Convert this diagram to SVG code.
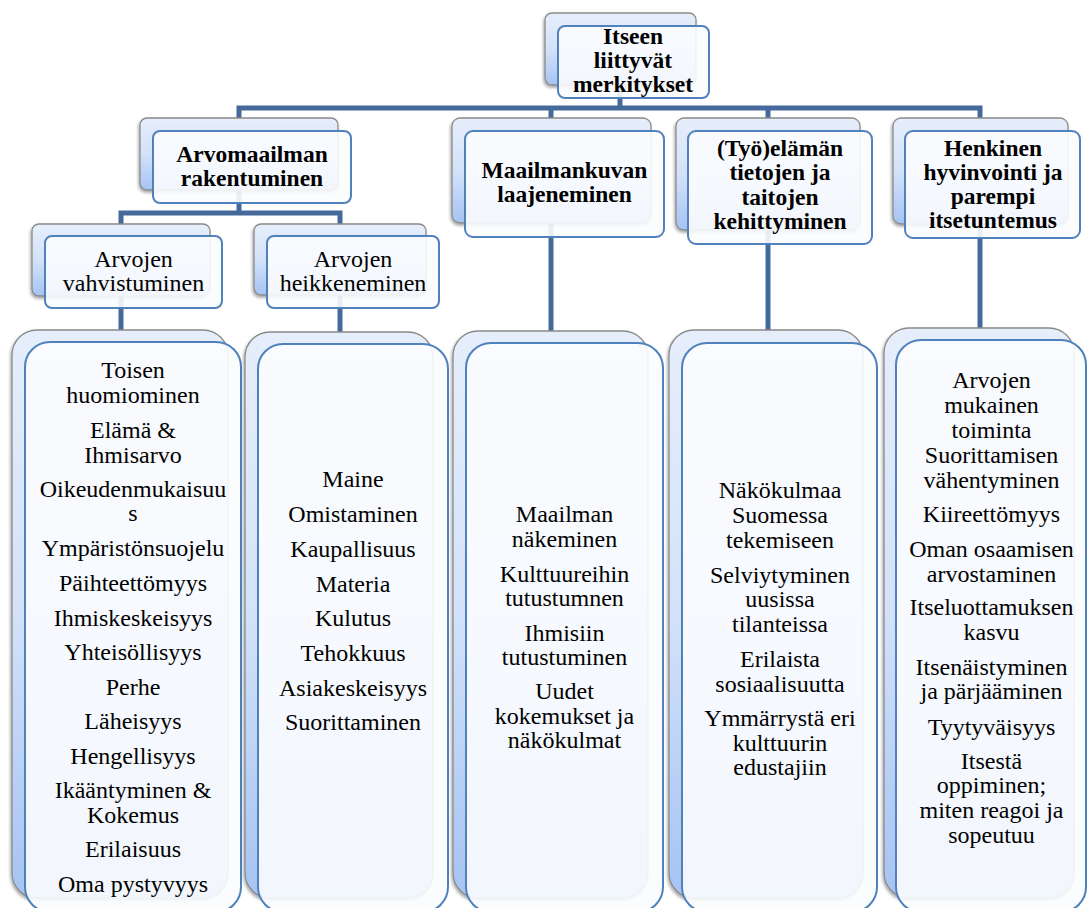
<svg xmlns="http://www.w3.org/2000/svg" width="1087" height="908" viewBox="0 0 1087 908">
<defs>
<linearGradient id="backGrad" x1="0" y1="0" x2="0" y2="1">
<stop offset="0" stop-color="#e6eefb"/>
<stop offset="0.5" stop-color="#d3e2fa"/>
<stop offset="1" stop-color="#a6c3f2"/>
</linearGradient>
<filter id="shadow" x="-10%" y="-10%" width="120%" height="120%">
<feDropShadow dx="-1" dy="2" stdDeviation="1.5" flood-color="#000" flood-opacity="0.35"/>
</filter>
<style>
.back{fill:url(#backGrad);stroke:#8a8a8a;stroke-width:1.3;filter:url(#shadow)}
.front{fill:#fbfcfe;fill-opacity:0.9;stroke:#4f81bd;stroke-width:2}
.conn path{fill:none;stroke:#46699b;stroke-width:5;stroke-linejoin:miter}
.hb{font-family:'Liberation Serif','Times New Roman','DejaVu Serif',serif;font-weight:bold;font-size:23.5px;fill:#000;text-anchor:middle}
.t{font-family:'Liberation Serif','Times New Roman','DejaVu Serif',serif;font-size:24px;fill:#000;text-anchor:middle}
</style>
</defs>
<rect width="1087" height="908" fill="#fff"/>

<g id="connectors" class="conn">
<path d="M620,80 V108"/>
<path d="M239,125 V108 H980 V125"/>
<path d="M551,108 V125"/>
<path d="M768,108 V125"/>
<path d="M239,190 V213"/>
<path d="M121,230 V213 H340 V230"/>
<path d="M121,295 V336"/>
<path d="M340,295 V338"/>
<path d="M551,222 V337"/>
<path d="M768,230 V336"/>
<path d="M980,224 V334"/>
</g>

<g id="node-root">
<rect class="back" x="545" y="13" width="151" height="72" rx="7"/>
<rect class="front" x="558" y="26" width="151" height="72" rx="7"/>
<text class="hb" x="633" y="44">Itseen</text>
<text class="hb" x="633" y="68">liittyvät</text>
<text class="hb" x="633" y="92">merkitykset</text>
</g>

<g id="node-arvomaailman">
<rect class="back" x="140" y="118" width="198" height="72" rx="7"/>
<rect class="front" x="153" y="131" width="198" height="72" rx="7"/>
<text class="hb" x="252" y="162">Arvomaailman</text>
<text class="hb" x="252" y="186">rakentuminen</text>
</g>

<g id="node-maailmankuvan">
<rect class="back" x="452" y="118" width="199" height="105" rx="8"/>
<rect class="front" x="465" y="131" width="199" height="106" rx="8"/>
<text class="hb" x="564.5" y="178">Maailmankuvan</text>
<text class="hb" x="564.5" y="202">laajeneminen</text>
</g>

<g id="node-tyoelaman">
<rect class="back" x="676" y="118" width="184" height="112" rx="8"/>
<rect class="front" x="688" y="131" width="184" height="113" rx="8"/>
<text class="hb" x="780" y="156">(Työ)elämän</text>
<text class="hb" x="780" y="180">tietojen ja</text>
<text class="hb" x="780" y="204.5">taitojen</text>
<text class="hb" x="780" y="228.5">kehittyminen</text>
</g>

<g id="node-henkinen">
<rect class="back" x="893" y="118" width="175" height="106" rx="8"/>
<rect class="front" x="905" y="131" width="175" height="107" rx="8"/>
<text class="hb" x="993" y="155.5">Henkinen</text>
<text class="hb" x="993" y="179.8">hyvinvointi ja</text>
<text class="hb" x="993" y="204.1">parempi</text>
<text class="hb" x="993" y="228.4">itsetuntemus</text>
</g>

<g id="node-vahvistuminen">
<rect class="back" x="32" y="224" width="178" height="72" rx="7"/>
<rect class="front" x="45" y="236" width="177" height="72" rx="7"/>
<text class="t" x="133.5" y="266.7">Arvojen</text>
<text class="t" x="133.5" y="291">vahvistuminen</text>
</g>

<g id="node-heikkeneminen">
<rect class="back" x="254" y="224" width="172" height="71" rx="7"/>
<rect class="front" x="267" y="236" width="172" height="72" rx="7"/>
<text class="t" x="353" y="266.7">Arvojen</text>
<text class="t" x="353" y="291">heikkeneminen</text>
</g>

<g id="list-vahvistuminen">
<rect class="back" x="12" y="330" width="216" height="568" rx="25"/>
<rect class="front" x="25" y="342" width="216" height="570" rx="25"/>
<text class="t" x="133" y="378.3">Toisen</text>
<text class="t" x="133" y="402.7">huomiominen</text>
<text class="t" x="133" y="438.3">Elämä &amp;</text>
<text class="t" x="133" y="462.7">Ihmisarvo</text>
<text class="t" x="133" y="496.7">Oikeudenmukaisuu</text>
<text class="t" x="133" y="521">s</text>
<text class="t" x="133" y="556">Ympäristönsuojelu</text>
<text class="t" x="133" y="590.7">Päihteettömyys</text>
<text class="t" x="133" y="626">Ihmiskeskeisyys</text>
<text class="t" x="133" y="660">Yhteisöllisyys</text>
<text class="t" x="133" y="695">Perhe</text>
<text class="t" x="133" y="729.3">Läheisyys</text>
<text class="t" x="133" y="764">Hengellisyys</text>
<text class="t" x="133" y="798.3">Ikääntyminen &amp;</text>
<text class="t" x="133" y="822.7">Kokemus</text>
<text class="t" x="133" y="856.7">Erilaisuus</text>
<text class="t" x="133" y="891.7">Oma pystyvyys</text>
</g>

<g id="list-heikkeneminen">
<rect class="back" x="245" y="332" width="188" height="566" rx="25"/>
<rect class="front" x="258" y="344" width="190" height="568" rx="25"/>
<text class="t" x="353" y="487.3">Maine</text>
<text class="t" x="353" y="522.3">Omistaminen</text>
<text class="t" x="353" y="556.7">Kaupallisuus</text>
<text class="t" x="353" y="591.7">Materia</text>
<text class="t" x="353" y="626">Kulutus</text>
<text class="t" x="353" y="660.7">Tehokkuus</text>
<text class="t" x="353" y="695.7">Asiakeskeisyys</text>
<text class="t" x="353" y="730">Suorittaminen</text>
</g>

<g id="list-maailmankuvan">
<rect class="back" x="453" y="331" width="195" height="567" rx="25"/>
<rect class="front" x="466" y="343" width="197" height="569" rx="25"/>
<text class="t" x="564.5" y="521.7">Maailman</text>
<text class="t" x="564.5" y="546.7">näkeminen</text>
<text class="t" x="564.5" y="581.7">Kulttuureihin</text>
<text class="t" x="564.5" y="606">tutustumnen</text>
<text class="t" x="564.5" y="640.7">Ihmisiin</text>
<text class="t" x="564.5" y="665">tutustuminen</text>
<text class="t" x="564.5" y="699.3">Uudet</text>
<text class="t" x="564.5" y="724">kokemukset ja</text>
<text class="t" x="564.5" y="748.3">näkökulmat</text>
</g>

<g id="list-tyoelaman">
<rect class="back" x="669" y="330" width="194" height="568" rx="25"/>
<rect class="front" x="682" y="343" width="195" height="569" rx="25"/>
<text class="t" x="780" y="498.3">Näkökulmaa</text>
<text class="t" x="780" y="523.3">Suomessa</text>
<text class="t" x="780" y="548.3">tekemiseen</text>
<text class="t" x="780" y="582.7">Selviytyminen</text>
<text class="t" x="780" y="606.7">uusissa</text>
<text class="t" x="780" y="631.7">tilanteissa</text>
<text class="t" x="780" y="666.7">Erilaista</text>
<text class="t" x="780" y="691.7">sosiaalisuutta</text>
<text class="t" x="780" y="726">Ymmärrystä eri</text>
<text class="t" x="780" y="750.7">kulttuurin</text>
<text class="t" x="780" y="775">edustajiin</text>
</g>

<g id="list-henkinen">
<rect class="back" x="884" y="328" width="190" height="570" rx="25"/>
<rect class="front" x="896" y="340" width="190" height="572" rx="25"/>
<text class="t" x="991.5" y="388.3">Arvojen</text>
<text class="t" x="991.5" y="413.3">mukainen</text>
<text class="t" x="991.5" y="438.3">toiminta</text>
<text class="t" x="991.5" y="463.3">Suorittamisen</text>
<text class="t" x="991.5" y="488.3">vähentyminen</text>
<text class="t" x="991.5" y="522.3">Kiireettömyys</text>
<text class="t" x="991.5" y="557.3">Oman osaamisen</text>
<text class="t" x="991.5" y="581.7">arvostaminen</text>
<text class="t" x="991.5" y="615">Itseluottamuksen</text>
<text class="t" x="991.5" y="640">kasvu</text>
<text class="t" x="991.5" y="675">Itsenäistyminen</text>
<text class="t" x="991.5" y="699.3">ja pärjääminen</text>
<text class="t" x="991.5" y="735">Tyytyväisyys</text>
<text class="t" x="991.5" y="769.3">Itsestä</text>
<text class="t" x="991.5" y="793.3">oppiminen;</text>
<text class="t" x="991.5" y="818.3">miten reagoi ja</text>
<text class="t" x="991.5" y="843.3">sopeutuu</text>
</g>
</svg>
